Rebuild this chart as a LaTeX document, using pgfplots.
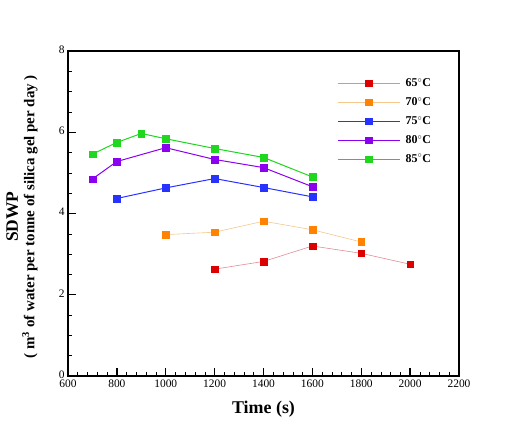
\documentclass[border=0pt]{standalone}
\usepackage{pgfplots}
\pgfplotsset{compat=1.18}
\usepackage{fontspec}
\setmainfont{Liberation Serif}
\definecolor{l65}{RGB}{225,140,150}
\definecolor{m65}{RGB}{220,0,0}
\definecolor{l70}{RGB}{245,200,140}
\definecolor{m70}{RGB}{255,130,0}
\definecolor{c75}{RGB}{40,50,255}
\definecolor{c80}{RGB}{140,0,240}
\definecolor{c85}{RGB}{30,215,30}
\begin{document}
\begin{tikzpicture}
\useasboundingbox (-68bp,-47bp) rectangle (454bp,376bp);
\begin{axis}[
  at={(0,0)}, anchor=south west,
  scale only axis, width=391bp, height=325bp,
  xmin=600, xmax=2200, ymin=0, ymax=8,
  xtick={600,800,...,2200}, ytick={0,2,4,6,8},
  minor x tick num=4, minor y tick num=3,
  tick align=inside, tick pos=left,
  major tick length=8bp, minor tick length=4bp,
  every major tick/.style={line width=1.3bp, black},
  every minor tick/.style={line width=0.6bp, black},
  axis line style={line width=1.5bp},
  /pgf/number format/assume math mode=true,
  /pgf/number format/1000 sep={},
  ticklabel style={font=\fontsize{11.5}{13}\selectfont},
  yticklabel style={yshift=1.5bp},
  xlabel={\textbf{Time (s)}},
  xlabel style={font=\fontsize{18}{20}\selectfont, at={(axis description cs:0.5,-0.1015)}, anchor=center},
  ylabel={\fontsize{17.5}{20}\selectfont\textbf{SDWP}\\[3bp]\fontsize{15}{18}\selectfont\textbf{( m\textsuperscript{3} of water per tonne of silica gel per day )}},
  ylabel style={align=center, at={(axis description cs:-0.1175,0.49)}, anchor=center},
  legend cell align=left,
  legend style={draw=none, fill=none, font=\fontsize{12}{14}\selectfont\bfseries,
    at={(axis description cs:0.68,0.93)}, anchor=north west, row sep=4.5bp,
    nodes={inner sep=2.5bp}},
  legend image code/.code={\draw[mark repeat=2,mark phase=2] plot coordinates {(0bp,0bp) (31bp,0bp) (62bp,0bp)};},
  every axis plot/.append style={line width=1bp},
  mark size=3.3bp,
]
\addplot[color=l65, line width=0.6bp, mark=square*, mark options={draw=m65, fill=m65, line width=0.3bp}] coordinates {
(1200,2.63) (1400,2.82) (1600,3.20) (1800,3.02) (2000,2.75)};
\addlegendentry{\hspace{3bp}65$^{\circ}$C}
\addplot[color=l70, line width=0.6bp, mark=square*, mark options={draw=m70, fill=m70, line width=0.3bp}] coordinates {
(1000,3.48) (1200,3.54) (1400,3.81) (1600,3.60) (1800,3.30)};
\addlegendentry{\hspace{3bp}70$^{\circ}$C}
\addplot[color=c75, mark=square*, mark options={fill=c75, line width=0.3bp}] coordinates {
(800,4.37) (1000,4.63) (1200,4.86) (1400,4.64) (1600,4.41)};
\addlegendentry{\hspace{3bp}75$^{\circ}$C}
\addplot[color=c80, mark=square*, mark options={fill=c80, line width=0.3bp}] coordinates {
(700,4.85) (800,5.28) (1000,5.62) (1200,5.33) (1400,5.13) (1600,4.66)};
\addlegendentry{\hspace{3bp}80$^{\circ}$C}
\addplot[color=c85, mark=square*, mark options={fill=c85, line width=0.3bp}] coordinates {
(700,5.46) (800,5.75) (900,5.97) (1000,5.84) (1200,5.60) (1400,5.38) (1600,4.90)};
\addlegendentry{\hspace{3bp}85$^{\circ}$C}
\end{axis}
\end{tikzpicture}
\end{document}
